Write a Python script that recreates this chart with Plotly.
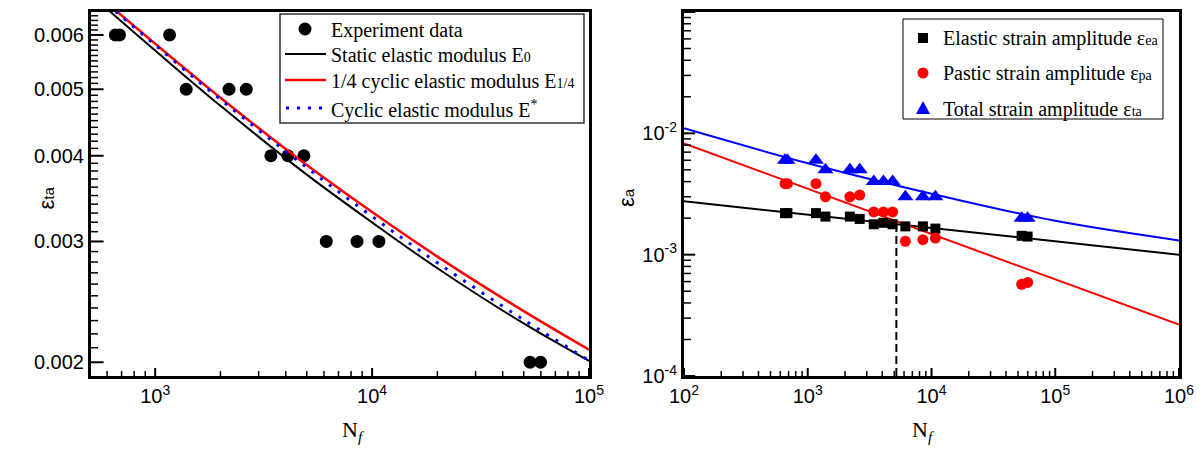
import math
import plotly.graph_objects as go

# ---------------- data ----------------
Nf = [655, 685, 1165, 1390, 2190, 2630, 3415, 4090, 4850, 6150, 8520, 10750, 53500, 59800]
eps_ta = [0.006, 0.006, 0.006, 0.005, 0.005, 0.005, 0.004, 0.004, 0.004,
          0.003, 0.003, 0.003, 0.002, 0.002]
eps_ea = [0.0022, 0.0022, 0.0022, 0.00206, 0.00206, 0.00197, 0.00178, 0.00183, 0.00178,
          0.00171, 0.00171, 0.00164, 0.00143, 0.00141]
eps_pa = [0.00385, 0.00385, 0.00385, 0.0030, 0.0030, 0.0031, 0.00225, 0.00225, 0.00225,
          0.00129, 0.00133, 0.00137, 0.00057, 0.00059]

# left panel model curves
curve_N = [600, 1000, 2000, 5000, 10000, 20000, 50000, 100000]
curve_E0 = [0.006547, 0.005694, 0.004730, 0.003754, 0.003198, 0.002742, 0.002278, 0.002009]
curve_E14 = [0.006675, 0.005826, 0.004860, 0.003877, 0.003311, 0.002851, 0.002374, 0.002086]
curve_Estar = [0.006652, 0.005800, 0.004831, 0.003843, 0.003263, 0.002793, 0.002306, 0.002012]

# right panel fitted lines
fit_N = [100, 1000000]
fit_ea = [0.00275, 0.00100]
fit_pa = [0.00825, 0.000265]
fit_N_total = [100, 1000, 10000, 100000, 1000000]
fit_ta = [0.0110, 0.00567, 0.00318, 0.00190, 0.00131]
trans_N = [5200, 5200]
trans_eps = [0.0001, 0.00165]

# tick labels
left_x_ticks = [1000, 10000, 100000]
left_x_labels = ["10<sup>3</sup>", "10<sup>4</sup>", "10<sup>5</sup>"]
left_y_ticks = [0.002, 0.003, 0.004, 0.005, 0.006]
left_y_labels = ["0.002", "0.003", "0.004", "0.005", "0.006"]
right_x_ticks = [1e2, 1e3, 1e4, 1e5, 1e6]
right_x_labels = ["10<sup>2</sup>", "10<sup>3</sup>", "10<sup>4</sup>", "10<sup>5</sup>", "10<sup>6</sup>"]
right_y_ticks = [1e-4, 1e-3, 1e-2, 1e-1]
right_y_labels = ["10<sup>-4</sup>", "10<sup>-3</sup>", "10<sup>-2</sup>", "10<sup>-1</sup>"]

left_x_minor = [d * 10 ** k for k in (2, 3, 4) for d in range(2, 10) if 600 <= d * 10 ** k < 100000]
left_y_minor = [round(v * 0.0001, 4) for v in range(19, 65) if v % 10 != 0]
right_x_minor = [d * 10 ** k for k in (2, 3, 4, 5) for d in range(2, 10)]
right_y_minor = [d * 10.0 ** k for k in (-4, -3, -2) for d in range(2, 10)]

# legend texts
left_legend_names = ["Experiment data", "Static elastic modulus E", "1/4 cyclic elastic modulus E",
                     "Cyclic elastic modulus E"]
left_legend_subs = ["", "0", "1/4", ""]
right_legend_names = ["Elastic strain amplitude \u03b5", "Pastic strain amplitude \u03b5",
                      "Total strain amplitude \u03b5"]
right_legend_subs = ["ea", "pa", "ta"]

SERIF = "Liberation Serif, Times New Roman, serif"
SANS = "Liberation Sans, Arial, sans-serif"

# pixel helpers for the plot area
L, T, W, H = 91, 12, 1088, 364
LEFT_X0, RIGHT_X0 = 91, 684
LEFT_XMIN, RIGHT_XMIN = 506, 100
LEFT_YRANGE = [-2.7190, -2.1884]
RIGHT_YRANGE = [-4, -1]
def px(x):
    return (x - L) / W
def py(y):
    return (T + H - y) / H

def small(t, size=14):
    return "<span style='font-size:%dpx'>%s</span>" % (size, t)

fig = go.Figure()

# ---------------- left panel ----------------
fig.add_trace(go.Scatter(x=Nf, y=eps_ta, mode="markers", name="Experiment data",
                         marker=dict(symbol="circle", size=13, color="black"), xaxis="x", yaxis="y"))
fig.add_trace(go.Scatter(x=curve_N, y=curve_E0, mode="lines", line_shape="spline",
                         name="Static elastic modulus E0", line=dict(color="black", width=2),
                         xaxis="x", yaxis="y"))
fig.add_trace(go.Scatter(x=curve_N, y=curve_E14, mode="lines", line_shape="spline",
                         name="1/4 cyclic elastic modulus E1/4", line=dict(color="#ff0000", width=2.5),
                         xaxis="x", yaxis="y"))
fig.add_trace(go.Scatter(x=curve_N, y=curve_Estar, mode="lines", line_shape="spline",
                         name="Cyclic elastic modulus E*",
                         line=dict(color="#0000ff", width=3, dash="3px,8px"), xaxis="x", yaxis="y"))

# ---------------- right panel ----------------
fig.add_trace(go.Scatter(x=fit_N, y=fit_ea, mode="lines", name="elastic fit",
                         line=dict(color="black", width=2), xaxis="x2", yaxis="y2"))
fig.add_trace(go.Scatter(x=fit_N, y=fit_pa, mode="lines", name="plastic fit",
                         line=dict(color="#ff0000", width=2), xaxis="x2", yaxis="y2"))
fig.add_trace(go.Scatter(x=fit_N_total, y=fit_ta, mode="lines", line_shape="spline", name="total fit",
                         line=dict(color="#0000ff", width=2), xaxis="x2", yaxis="y2"))
fig.add_trace(go.Scatter(x=trans_N, y=trans_eps, mode="lines", name="transition life",
                         line=dict(color="black", width=2, dash="8px,4px"), xaxis="x2", yaxis="y2"))
fig.add_trace(go.Scatter(x=Nf, y=eps_ea, mode="markers", name="Elastic strain amplitude",
                         marker=dict(symbol="square", size=10, color="black"), xaxis="x2", yaxis="y2"))
fig.add_trace(go.Scatter(x=Nf, y=eps_pa, mode="markers", name="Pastic strain amplitude",
                         marker=dict(symbol="circle", size=11, color="#ff0000"), xaxis="x2", yaxis="y2"))
fig.add_trace(go.Scatter(x=Nf, y=eps_ta, mode="markers", name="Total strain amplitude",
                         marker=dict(symbol="triangle-up", size=14, color="#0000ff"), xaxis="x2", yaxis="y2"))

# y-axis tick marks drawn as horizontal line markers on the axis, clipped to the plot area
def ytick_trace(vals, xpos, xa, ya, size, width):
    fig.add_trace(go.Scatter(x=[xpos] * len(vals), y=vals, mode="markers", showlegend=False,
                             hoverinfo="skip", cliponaxis=True, xaxis=xa, yaxis=ya,
                             marker=dict(symbol="line-ew", size=size,
                                         line=dict(color="black", width=width))))

ytick_trace(left_y_ticks, LEFT_XMIN, "x", "y", 18, 2)
ytick_trace(left_y_minor, LEFT_XMIN, "x", "y", 10, 1.5)
ytick_trace(right_y_ticks, RIGHT_XMIN, "x2", "y2", 16, 2)
ytick_trace(right_y_minor, RIGHT_XMIN, "x2", "y2", 10, 1.5)

axis_common = dict(type="log", showgrid=False, zeroline=False, showline=True, linecolor="black",
                   linewidth=3, mirror=True, ticks="", automargin=False, tickmode="array",
                   tickfont=dict(family=SANS, size=20, color="black"))

shapes = []
annotations = []

# ---------------- x tick marks (inside, bottom only) ----------------
def xticks(vals, xref, yref, length, width):
    for v in vals:
        shapes.append(dict(type="line", xref=xref, yref=yref, x0=v, x1=v, y0=0, y1=length / H,
                           line=dict(color="black", width=width), layer="above"))

xticks(left_x_ticks, "x", "y domain", 8, 2)
xticks(left_x_minor, "x", "y domain", 5, 1.5)
xticks(right_x_ticks, "x2", "y2 domain", 8, 2)
xticks(right_x_minor, "x2", "y2 domain", 5, 1.5)

# ---------------- hand-placed legends ----------------
shapes.append(dict(type="rect", xref="paper", yref="paper", x0=px(280), x1=px(584), y0=py(14), y1=py(123),
                   line=dict(color="#333333", width=1.5), fillcolor="white", layer="above"))
left_rows = [29, 54, 80, 108]
shapes.append(dict(type="circle", xref="paper", yref="paper", xsizemode="pixel", ysizemode="pixel",
                   xanchor=px(305), yanchor=py(left_rows[0]), x0=-6.5, x1=6.5, y0=-6.5, y1=6.5,
                   fillcolor="black", line=dict(width=0), layer="above"))
shapes.append(dict(type="line", xref="paper", yref="paper", x0=px(285), x1=px(326),
                   y0=py(left_rows[1]), y1=py(left_rows[1]), line=dict(color="black", width=2), layer="above"))
shapes.append(dict(type="line", xref="paper", yref="paper", x0=px(285), x1=px(326),
                   y0=py(left_rows[2]), y1=py(left_rows[2]), line=dict(color="#ff0000", width=2.5), layer="above"))
shapes.append(dict(type="line", xref="paper", yref="paper", x0=px(286), x1=px(326),
                   y0=py(left_rows[3]), y1=py(left_rows[3]),
                   line=dict(color="#0000ff", width=3, dash="3px,8px"), layer="above"))
for i, (nm, sb) in enumerate(zip(left_legend_names, left_legend_subs)):
    txt = nm + (small(sb) if sb else "") + ("<sup>*</sup>" if i == 3 else "")
    annotations.append(dict(text=txt, xref="paper", yref="paper", x=px(329), y=py(left_rows[i] + 1),
                            xanchor="left", yanchor="middle", showarrow=False,
                            font=dict(family=SERIF, size=20, color="black")))

shapes.append(dict(type="rect", xref="paper", yref="paper", x0=px(903), x1=px(1163), y0=py(19), y1=py(119),
                   line=dict(color="black", width=1), fillcolor="white", layer="above"))
right_rows = [38, 73, 108]
shapes.append(dict(type="rect", xref="paper", yref="paper", xsizemode="pixel", ysizemode="pixel",
                   xanchor=px(923), yanchor=py(right_rows[0]), x0=-5, x1=5, y0=-5, y1=5,
                   fillcolor="black", line=dict(width=0), layer="above"))
shapes.append(dict(type="circle", xref="paper", yref="paper", xsizemode="pixel", ysizemode="pixel",
                   xanchor=px(923), yanchor=py(right_rows[1]), x0=-5.5, x1=5.5, y0=-5.5, y1=5.5,
                   fillcolor="#ff0000", line=dict(width=0), layer="above"))
shapes.append(dict(type="path", xref="paper", yref="paper", xsizemode="pixel", ysizemode="pixel",
                   xanchor=px(923), yanchor=py(right_rows[2]), path="M -7,-6 L 7,-6 L 0,7 Z",
                   fillcolor="#0000ff", line=dict(width=0), layer="above"))
for i, (nm, sb) in enumerate(zip(right_legend_names, right_legend_subs)):
    annotations.append(dict(text=nm + small(sb), xref="paper", yref="paper", x=px(941), y=py(right_rows[i] + 1),
                            xanchor="left", yanchor="middle", showarrow=False,
                            font=dict(family=SERIF, size=20, color="black")))

# axis titles
annotations += [
    dict(text="N<sub><i>f</i></sub>", xref="paper", yref="paper", x=px(340), y=py(447),
         showarrow=False, font=dict(family=SERIF, size=22, color="black")),
    dict(text="N<sub><i>f</i></sub>", xref="paper", yref="paper", x=px(937), y=py(447),
         showarrow=False, font=dict(family=SERIF, size=22, color="black")),
    dict(text="\u03b5" + small("ta", 15), xref="paper", yref="paper", x=px(31), y=py(198),
         textangle=-90, showarrow=False, font=dict(family=SANS, size=22, color="black")),
    dict(text="\u03b5" + small("a", 15), xref="paper", yref="paper", x=px(626), y=py(198),
         textangle=-90, showarrow=False, font=dict(family=SANS, size=22, color="black")),
]

fig.update_layout(
    template="none",
    width=1202, height=450,
    paper_bgcolor="white", plot_bgcolor="white",
    margin=dict(l=L, r=1202 - L - W, t=T, b=450 - T - H),
    showlegend=False,
    xaxis=dict(axis_common, domain=[0, px(589)], range=[math.log10(LEFT_XMIN), 5],
               tickvals=left_x_ticks, ticktext=left_x_labels, anchor="y"),
    yaxis=dict(axis_common, domain=[0, 1], range=LEFT_YRANGE,
               tickvals=left_y_ticks, ticktext=left_y_labels, anchor="x"),
    xaxis2=dict(axis_common, domain=[px(684), 1.0], range=[2, 6],
                tickvals=right_x_ticks, ticktext=right_x_labels, anchor="y2"),
    yaxis2=dict(axis_common, domain=[0, 1], range=RIGHT_YRANGE,
                tickvals=right_y_ticks, ticktext=right_y_labels, anchor="x2"),
    shapes=shapes,
    annotations=annotations,
)

fig.write_html("out.html", config={"displayModeBar": False},
               post_script="document.body.style.margin='0px';")
